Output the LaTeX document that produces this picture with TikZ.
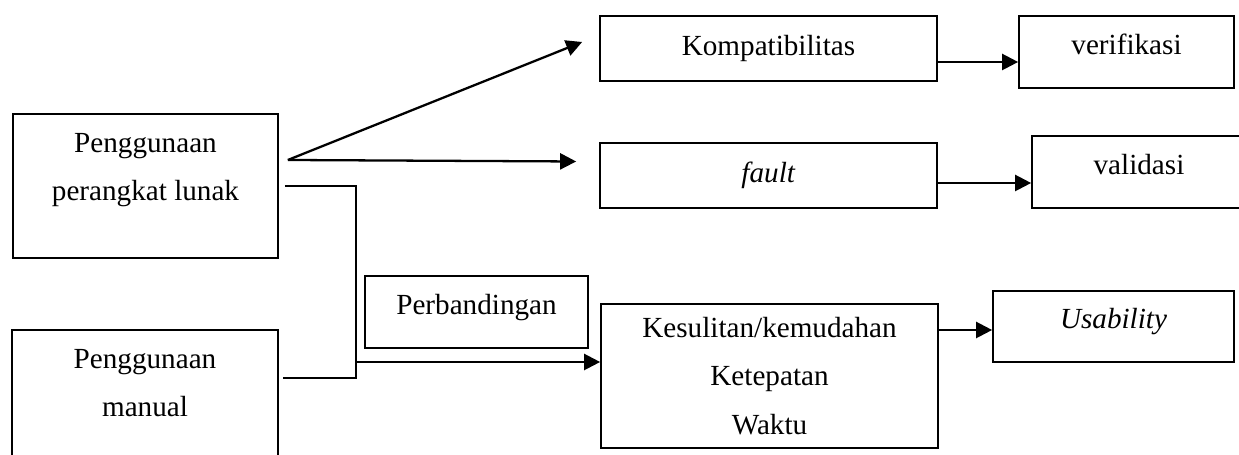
\documentclass[tikz,border=0pt]{standalone}
\usepackage{fontspec}
\setmainfont{Liberation Serif}
\usetikzlibrary{arrows.meta,calc}
\begin{document}
\begin{tikzpicture}[x=0.02cm, y=0.02cm,
        every node/.style={font=\fontsize{16.6}{27.5}\selectfont},
        kotak/.style={draw, line width=1pt, inner sep=0pt, align=center},
        satu/.style={kotak, text depth=9pt},
        panah/.style={line width=1.3pt, -{Triangle[length=0.32cm, width=0.32cm]}},
        garis/.style={line width=0.8pt}]
        \clip (0,0) rectangle (1239,455);
        % Kotak masukan
        \node[kotak, minimum width=5.3cm, minimum height=2.88cm] (lunak) at (145.5,269) {Penggunaan\\perangkat lunak\\[-14pt]\strut};
        \node[kotak, minimum width=5.32cm, minimum height=3.08cm] (manual) at (145,48) {Penggunaan\\manual\\[-8pt]\strut};
        \node[satu, minimum width=4.46cm, minimum height=1.44cm] (banding) at (476.5,143) {Perbandingan};

        % Kotak tengah dan kanan
        \node[kotak, minimum width=6.74cm, minimum height=1.3cm] (kompat) at (768.5,406.5) {Kompatibilitas};
        \node[kotak, minimum width=6.74cm, minimum height=1.3cm] (fault) at (768.5,279.5) {\textit{fault}};
        \node[kotak, minimum width=6.74cm, minimum height=2.88cm] (sulit) at (769.5,79) {Kesulitan/kemudahan\\Ketepatan\\Waktu};
        \node[satu, minimum width=4.3cm, minimum height=1.44cm] (verif) at (1126.5,403) {verifikasi};
        \node[satu, minimum width=4.28cm, minimum height=1.44cm] (valid) at (1139,283) {validasi};
        \node[satu, minimum width=4.82cm, minimum height=1.42cm] (usab) at (1113.5,128.5) {\textit{Usability}};

        % Panah dari perangkat lunak
        \coordinate (pisah) at ($(lunak.east)+(9,26)$);
        \draw[panah] (pisah) -- ($(kompat.west)+(-17,6.5)$);
        \draw[panah] (pisah) -- ($(fault.west)+(-23,14)$);

        % Garis gabungan ke perbandingan
        \coordinate (sambung) at (356,93);
        \draw[garis] ($(lunak.east)+(6,0)$) -| (sambung) |- ($(manual.east)+(4,29)$);
        \draw[panah] (sambung) -- (sambung -| sulit.west);

        % Panah ke kotak hasil
        \draw[panah] ($(kompat.east)+(0,-13.5)$) coordinate (k1) -- (k1 -| verif.west);
        \draw[panah] ($(fault.east)+(0,-7.5)$) coordinate (f1) -- (f1 -| valid.west);
        \coordinate (u1) at ($(usab.west)+(0,-3.5)$);
        \draw[panah] (u1 -| sulit.east) -- (u1);
\end{tikzpicture}
\end{document}
